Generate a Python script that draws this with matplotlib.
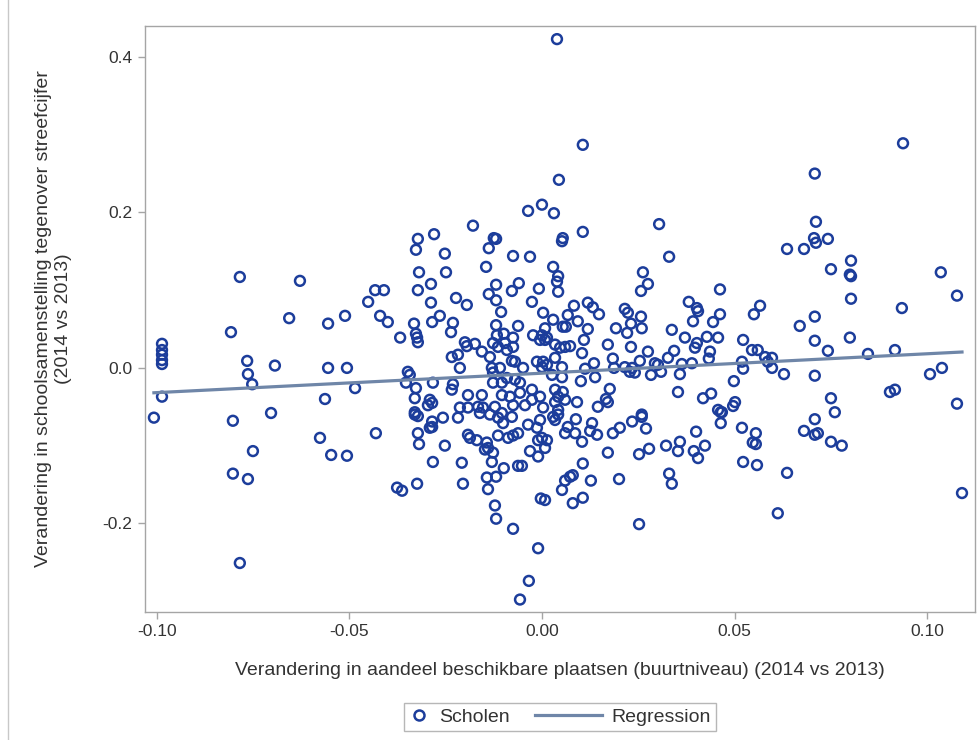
import numpy as np
import matplotlib
matplotlib.use("Agg")
import matplotlib.pyplot as plt
from matplotlib.lines import Line2D
from matplotlib.legend_handler import HandlerBase

plt.rcParams['font.family'] = ['Liberation Sans', 'DejaVu Sans']
plt.rcParams['axes.unicode_minus'] = False

# change in share of available places (x) vs change in school composition (y)
x_left = [-0.0784, -0.0628, -0.0807, -0.0656, -0.0555, -0.0511, -0.0986, -0.0986, -0.0986,
          -0.0986, -0.0986, -0.0765, -0.0763, -0.0752, -0.0693, -0.0555, -0.0506, -0.0986,
          -0.0563, -0.1007, -0.0802, -0.0703, -0.0750, -0.0802, -0.0763, -0.0784, -0.0576,
          -0.0547, -0.0506]
y_left = [0.117, 0.112, 0.046, 0.064, 0.057, 0.067, 0.031, 0.023, 0.017,
          0.010, 0.005, 0.009, -0.008, -0.021, 0.003, 0.000, 0.000, -0.037,
          -0.040, -0.064, -0.068, -0.058, -0.107, -0.136, -0.143, -0.251, -0.090,
          -0.112, -0.113]

x_mid_left = [-0.0179, -0.0280, -0.0322, -0.0327, -0.0125, -0.0119, -0.0138, -0.0252, -0.0075,
              -0.0031, -0.0145, -0.0319, -0.0249, -0.0288, -0.0119, -0.0060, -0.0008, -0.0433,
              -0.0410, -0.0322, -0.0138, -0.0078, -0.0451, -0.0288, -0.0223, -0.0195, -0.0119,
              -0.0026, -0.0106, 0.0003, -0.0420, -0.0400, -0.0265, -0.0285, -0.0231, -0.0332,
              -0.0236, -0.0119, -0.0062, -0.0327, -0.0324, -0.0322, -0.0368, -0.0200, -0.0195,
              -0.0174, -0.0156, -0.0135, -0.0117, -0.0099, -0.0075, -0.0127, -0.0114, -0.0096,
              -0.0091, -0.0075, -0.0078, -0.0070, -0.0023, -0.0005, 0.0008, 0.0000, 0.0013,
              -0.0013, 0.0003, 0.0000, 0.0013, -0.0234, -0.0218, -0.0213, -0.0348, -0.0343,
              -0.0485, -0.0353, -0.0327, -0.0330, -0.0283, -0.0231, -0.0234, -0.0291, -0.0285,
              -0.0296, -0.0192, -0.0156, -0.0130, -0.0127, -0.0109, -0.0127, -0.0104, -0.0091,
              -0.0070, -0.0057, -0.0049, -0.0104, -0.0083, -0.0057, -0.0026, -0.0026, -0.0005,
              -0.0213, -0.0192, -0.0166, -0.0153, -0.0122, -0.0075, -0.0044, 0.0003, -0.0330,
              -0.0036, 0.0000, 0.0031]
y_mid_left = [0.183, 0.172, 0.166, 0.152, 0.167, 0.166, 0.154, 0.147, 0.144,
              0.143, 0.130, 0.123, 0.123, 0.108, 0.107, 0.109, 0.102, 0.100,
              0.100, 0.100, 0.095, 0.099, 0.085, 0.084, 0.090, 0.081, 0.087,
              0.085, 0.072, 0.071, 0.067, 0.059, 0.067, 0.059, 0.058, 0.057,
              0.046, 0.055, 0.054, 0.044, 0.039, 0.033, 0.039, 0.033, 0.028,
              0.031, 0.021, 0.014, 0.042, 0.044, 0.039, 0.032, 0.027, 0.032,
              0.023, 0.027, 0.009, 0.008, 0.042, 0.036, 0.036, 0.042, 0.039,
              0.008, 0.008, 0.001, 0.004, 0.014, 0.017, 0.000, -0.005, -0.009,
              -0.026, -0.019, -0.026, -0.039, -0.019, -0.021, -0.028, -0.041, -0.045,
              -0.048, -0.035, -0.035, 0.000, -0.006, 0.000, -0.019, -0.019, -0.013,
              -0.015, -0.019, 0.000, -0.035, -0.037, -0.032, -0.028, -0.041, -0.037,
              -0.051, -0.051, -0.050, -0.051, -0.050, -0.048, -0.048, -0.051, -0.057,
              0.202, 0.210, 0.199]

x_mid_low = [-0.0431, -0.0330, -0.0322, -0.0285, -0.0285, -0.0291, -0.0257, -0.0218, -0.0322,
             -0.0319, -0.0252, -0.0283, -0.0208, -0.0376, -0.0363, -0.0324, -0.0205, -0.0192,
             -0.0187, -0.0169, -0.0143, -0.0140, -0.0148, -0.0127, -0.0130, -0.0161, -0.0135,
             -0.0114, -0.0101, -0.0078, -0.0104, -0.0114, -0.0088, -0.0075, -0.0062, -0.0036,
             -0.0013, -0.0005, 0.0000, -0.0010, 0.0013, 0.0008, -0.0031, -0.0010, -0.0099,
             -0.0062, -0.0052, -0.0143, -0.0119, -0.0140, -0.0122, -0.0119, -0.0075, -0.0003,
             -0.0010, -0.0034, -0.0057]
y_mid_low = [-0.084, -0.060, -0.062, -0.069, -0.076, -0.077, -0.064, -0.064, -0.084,
             -0.098, -0.100, -0.121, -0.122, -0.154, -0.158, -0.149, -0.149, -0.086,
             -0.090, -0.093, -0.096, -0.103, -0.105, -0.109, -0.121, -0.058, -0.060,
             -0.064, -0.071, -0.063, -0.058, -0.087, -0.090, -0.087, -0.084, -0.073,
             -0.077, -0.067, -0.090, -0.093, -0.093, -0.103, -0.107, -0.114, -0.129,
             -0.126, -0.126, -0.141, -0.140, -0.156, -0.177, -0.194, -0.207, -0.168,
             -0.232, -0.274, -0.298]

x_mid_right = [0.0039, 0.0106, 0.0044, 0.0304, 0.0106, 0.0052, 0.0054, 0.0330, 0.0029,
               0.0042, 0.0039, 0.0042, 0.0262, 0.0275, 0.0257, 0.0462, 0.0381, 0.0402,
               0.0405, 0.0462, 0.0392, 0.0444, 0.0550, 0.0566, 0.0083, 0.0119, 0.0132,
               0.0148, 0.0067, 0.0029, 0.0054, 0.0062, 0.0093, 0.0119, 0.0215, 0.0223,
               0.0257, 0.0259, 0.0231, 0.0192, 0.0221, 0.0337, 0.0008, 0.0109, 0.0034,
               0.0047, 0.0060, 0.0073, 0.0371, 0.0402, 0.0397, 0.0428, 0.0457, 0.0522,
               0.0545, 0.0560, 0.0171, 0.0231, 0.0104, 0.0135, 0.0184, 0.0275, 0.0254,
               0.0327, 0.0343, 0.0436, 0.0433, 0.0389, 0.0363, 0.0293, 0.0301, 0.0519,
               0.0522, 0.0034, 0.0052, 0.0112, 0.0187, 0.0215, 0.0234, 0.0241, 0.0228,
               0.0283, 0.0309, 0.0358, 0.0026, 0.0052, 0.0101, 0.0138, 0.0498, 0.0353,
               0.0176, 0.0166, 0.0171, 0.0034, 0.0054, 0.0042, 0.0060, 0.0034, 0.0091,
               0.0145, 0.0418, 0.0439, 0.0457, 0.0467, 0.0501, 0.0496, 0.0042, 0.0259]
y_mid_right = [0.423, 0.287, 0.242, 0.185, 0.175, 0.163, 0.167, 0.143, 0.130,
               0.118, 0.111, 0.098, 0.123, 0.108, 0.099, 0.101, 0.085, 0.077,
               0.073, 0.069, 0.060, 0.059, 0.069, 0.080, 0.080, 0.084, 0.078,
               0.069, 0.068, 0.062, 0.053, 0.053, 0.060, 0.050, 0.076, 0.071,
               0.066, 0.051, 0.057, 0.051, 0.045, 0.049, 0.051, 0.036, 0.030,
               0.026, 0.027, 0.028, 0.039, 0.032, 0.026, 0.040, 0.039, 0.036,
               0.023, 0.023, 0.030, 0.027, 0.019, 0.006, 0.012, 0.021, 0.009,
               0.013, 0.022, 0.021, 0.012, 0.006, 0.005, 0.006, 0.004, 0.008,
               -0.001, 0.013, 0.001, -0.001, 0.000, 0.001, 0.000, -0.006, -0.005,
               -0.009, -0.005, -0.008, -0.009, -0.012, -0.017, -0.012, -0.017, -0.031,
               -0.027, -0.040, -0.044, -0.028, -0.031, -0.037, -0.041, -0.044, -0.044,
               -0.050, -0.039, -0.033, -0.054, -0.057, -0.044, -0.049, -0.054, -0.060]

x_mid_right_low = [0.0029, 0.0042, 0.0034, 0.0088, 0.0060, 0.0067, 0.0086, 0.0104, 0.0130,
                   0.0125, 0.0143, 0.0184, 0.0202, 0.0234, 0.0259, 0.0270, 0.0171, 0.0252,
                   0.0278, 0.0322, 0.0358, 0.0353, 0.0400, 0.0394, 0.0405, 0.0423, 0.0464,
                   0.0464, 0.0519, 0.0555, 0.0547, 0.0555, 0.0522, 0.0558, 0.0106, 0.0060,
                   0.0073, 0.0080, 0.0052, 0.0127, 0.0200, 0.0080, 0.0106, 0.0330, 0.0337,
                   0.0252, 0.0008]
y_mid_right_low = [-0.063, -0.060, -0.067, -0.066, -0.084, -0.076, -0.084, -0.095, -0.071,
                   -0.081, -0.086, -0.084, -0.077, -0.069, -0.063, -0.078, -0.109, -0.111,
                   -0.104, -0.100, -0.095, -0.107, -0.082, -0.107, -0.116, -0.100, -0.057,
                   -0.071, -0.077, -0.084, -0.096, -0.098, -0.121, -0.125, -0.123, -0.145,
                   -0.140, -0.138, -0.157, -0.145, -0.143, -0.174, -0.167, -0.136, -0.149,
                   -0.201, -0.170]

x_right = [0.0937, 0.0708, 0.0711, 0.0706, 0.0711, 0.0742, 0.0636, 0.0680, 0.0750,
           0.0802, 0.0799, 0.0802, 0.1035, 0.1077, 0.0802, 0.0934, 0.0708, 0.0669,
           0.0708, 0.0799, 0.0742, 0.0846, 0.0916, 0.0579, 0.0597, 0.0586, 0.0597,
           0.0628, 0.0708, 0.1007, 0.1038, 0.0750, 0.0760, 0.0903, 0.0916, 0.1077,
           0.0708, 0.0680, 0.0708, 0.0716, 0.0750, 0.0778, 0.0636, 0.0612, 0.1090]
y_right = [0.289, 0.250, 0.188, 0.167, 0.161, 0.166, 0.153, 0.153, 0.127,
           0.138, 0.120, 0.118, 0.123, 0.093, 0.089, 0.077, 0.066, 0.054,
           0.035, 0.039, 0.022, 0.018, 0.023, 0.014, 0.013, 0.008, 0.000,
           -0.008, -0.010, -0.008, 0.000, -0.039, -0.057, -0.031, -0.028, -0.046,
           -0.066, -0.081, -0.086, -0.084, -0.095, -0.100, -0.135, -0.187, -0.161]

scholen_x = x_left + x_mid_left + x_mid_low + x_mid_right + x_mid_right_low + x_right
scholen_y = y_left + y_mid_left + y_mid_low + y_mid_right + y_mid_right_low + y_right

# fitted regression line
reg_intercept = -0.0068
reg_slope = 0.25

x_ticks = [-0.10, -0.05, 0.00, 0.05, 0.10]
y_ticks = [-0.2, 0.0, 0.2, 0.4]

text_col = '#333333'
frame_col = '#a5a5a5'
dot_col = '#1c3d9b'
reg_col = '#6f86a8'


class LongLineHandler(HandlerBase):
    # legend line that reaches back to the left of its handle box
    def create_artists(self, legend, orig_handle, xdescent, ydescent, width, height,
                       fontsize, trans):
        ln = Line2D([-2.1 * width, width], [height / 2, height / 2],
                    color=reg_col, lw=2.3, transform=trans)
        return [ln]


fig = plt.figure(figsize=(9.8, 7.4), dpi=100)
ax = fig.add_axes([0.148, 0.173, 0.847, 0.792])

reg_x = np.array([min(scholen_x), max(scholen_x)])
ax.plot(reg_x, reg_intercept + reg_slope * reg_x, color=reg_col, lw=2.3, zorder=3)
ax.scatter(scholen_x, scholen_y, s=50, facecolors='none', edgecolors=dot_col,
           linewidths=1.8, zorder=2)

ax.set_xlim(-0.1030, 0.1124)
ax.set_ylim(-0.314, 0.440)
ax.set_xticks(x_ticks)
ax.set_xticklabels(['%.2f' % v for v in x_ticks])
ax.set_yticks(y_ticks)
ax.set_yticklabels(['%.1f' % v for v in y_ticks])
ax.tick_params(direction='out', length=5, width=1, color=frame_col,
               labelsize=12.5, labelcolor=text_col, pad=4)
for s in ax.spines.values():
    s.set_color(frame_col)
    s.set_linewidth(1)

ax.set_xlabel('Verandering in aandeel beschikbare plaatsen (buurtniveau) (2014 vs 2013)',
              fontsize=14, color=text_col)
ax.xaxis.set_label_coords(0.5, -0.085)
ax.set_ylabel('Verandering in schoolsamenstelling tegenover streefcijfer\n(2014 vs 2013)',
              fontsize=14, color=text_col, linespacing=1.2)
ax.yaxis.set_label_coords(-0.088, 0.5)

dot_handle = Line2D([], [], marker='o', ls='none', mfc='none', mec=dot_col, mew=1.8, ms=7.2)
reg_handle = Line2D([], [], color=reg_col, lw=2.3)
fig.legend([dot_handle, reg_handle], ['Scholen', 'Regression'], loc='center',
           bbox_to_anchor=(0.571, 0.031), ncol=2, fontsize=14, frameon=True,
           fancybox=False, edgecolor=frame_col, handlelength=1.1, columnspacing=3.6,
           handletextpad=0.5, borderpad=0.25, borderaxespad=0, labelcolor=text_col,
           handler_map={reg_handle: LongLineHandler()})

# thin outer border on the left
fig.add_artist(Line2D([0.008, 0.008], [0, 1], transform=fig.transFigure, color='#c8c8c8', lw=1))

fig.savefig('out.png', dpi=100)
